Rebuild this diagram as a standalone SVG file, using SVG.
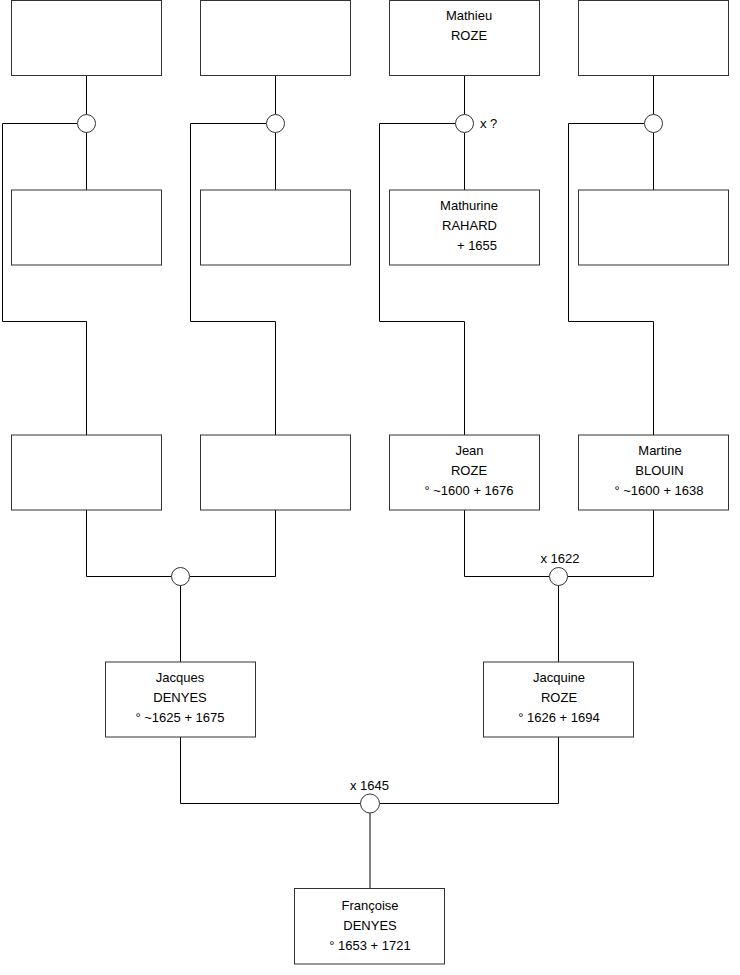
<svg xmlns="http://www.w3.org/2000/svg" width="740" height="975" viewBox="0 0 740 975">
<style>
.box{fill:#fff;stroke:#333;stroke-width:1}
.knot{fill:#fff;stroke:#333;stroke-width:1}
.ln{fill:none;stroke:#000;stroke-width:1}
text{font-family:"Liberation Sans",Arial,sans-serif;font-size:13px;fill:#000;text-anchor:middle}
.lbl{text-anchor:start}
</style>
<rect width="740" height="975" fill="#fff"/>
<g id="connectors">
<path class="ln" d="M86.5 76V114.5M86.5 132.5V190M77.5 123.5H2.5V321.5H86.5V435"/>
<path class="ln" d="M275.5 76V114.5M275.5 132.5V190M266.5 123.5H190.5V321.5H275.5V435"/>
<path class="ln" d="M464.5 76V114.5M464.5 132.5V190M455.5 123.5H379.5V321.5H464.5V435"/>
<path class="ln" d="M653.5 76V114.5M653.5 132.5V190M644.5 123.5H568.5V321.5H653.5V435"/>
<path class="ln" d="M86.5 510V576.5H171.5M189.5 576.5H275.5V510M180.5 585.5V662"/>
<path class="ln" d="M464.5 510V576.5H549.5M567.5 576.5H653.5V510M558.5 585.5V662"/>
<path class="ln" d="M180.5 737V803.5H360.5M379.5 803.5H558.5V737M370 813V888"/>
<circle class="knot" cx="86.5" cy="123.5" r="9"/>
<circle class="knot" cx="275.5" cy="123.5" r="9"/>
<circle class="knot" cx="464.5" cy="123.5" r="9"/>
<circle class="knot" cx="653.5" cy="123.5" r="9"/>
<circle class="knot" cx="180.5" cy="576.5" r="9"/>
<circle class="knot" cx="558.5" cy="576.5" r="9"/>
<circle class="knot" cx="370" cy="803.5" r="9.5"/>
<text class="lbl" x="480" y="128">x ?</text>
<text x="560" y="563">x 1622</text>
<text x="369.5" y="790">x 1645</text>
</g>
<g id="n1"><rect class="box" x="11.5" y="0.5" width="150" height="75"/></g>
<g id="n2"><rect class="box" x="200.5" y="0.5" width="150" height="75"/></g>
<g id="mathieu"><rect class="box" x="389.5" y="0.5" width="150" height="75"/>
<text x="469" y="20">Mathieu</text><text x="469" y="40">ROZE</text></g>
<g id="n4"><rect class="box" x="578.5" y="0.5" width="150" height="75"/></g>
<g id="n5"><rect class="box" x="11.5" y="190" width="150" height="75"/></g>
<g id="n6"><rect class="box" x="200.5" y="190" width="150" height="75"/></g>
<g id="mathurine"><rect class="box" x="389.5" y="190" width="150" height="75"/>
<text x="469" y="210">Mathurine</text><text x="469.5" y="230">RAHARD</text><text x="477" y="250">+ 1655</text></g>
<g id="n8"><rect class="box" x="578.5" y="190" width="150" height="75"/></g>
<g id="n9"><rect class="box" x="11.5" y="435" width="150" height="75"/></g>
<g id="n10"><rect class="box" x="200.5" y="435" width="150" height="75"/></g>
<g id="jean"><rect class="box" x="389.5" y="435" width="150" height="75"/>
<text x="469.5" y="455">Jean</text><text x="469" y="475">ROZE</text><text x="469" y="495">° ~1600 + 1676</text></g>
<g id="martine"><rect class="box" x="578.5" y="435" width="150" height="75"/>
<text x="660" y="455">Martine</text><text x="659.5" y="475">BLOUIN</text><text x="659" y="495">° ~1600 + 1638</text></g>
<g id="jacques"><rect class="box" x="105.5" y="662" width="150" height="75"/>
<text x="180" y="682">Jacques</text><text x="180" y="702">DENYES</text><text x="180" y="722">° ~1625 + 1675</text></g>
<g id="jacquine"><rect class="box" x="483.5" y="662" width="150" height="75"/>
<text x="559" y="682">Jacquine</text><text x="559" y="702">ROZE</text><text x="559" y="722">° 1626 + 1694</text></g>
<g id="francoise"><rect class="box" x="294.5" y="888.5" width="150" height="75.5"/>
<text x="370" y="910">Françoise</text><text x="370" y="930">DENYES</text><text x="370" y="950">° 1653 + 1721</text></g>
</svg>
